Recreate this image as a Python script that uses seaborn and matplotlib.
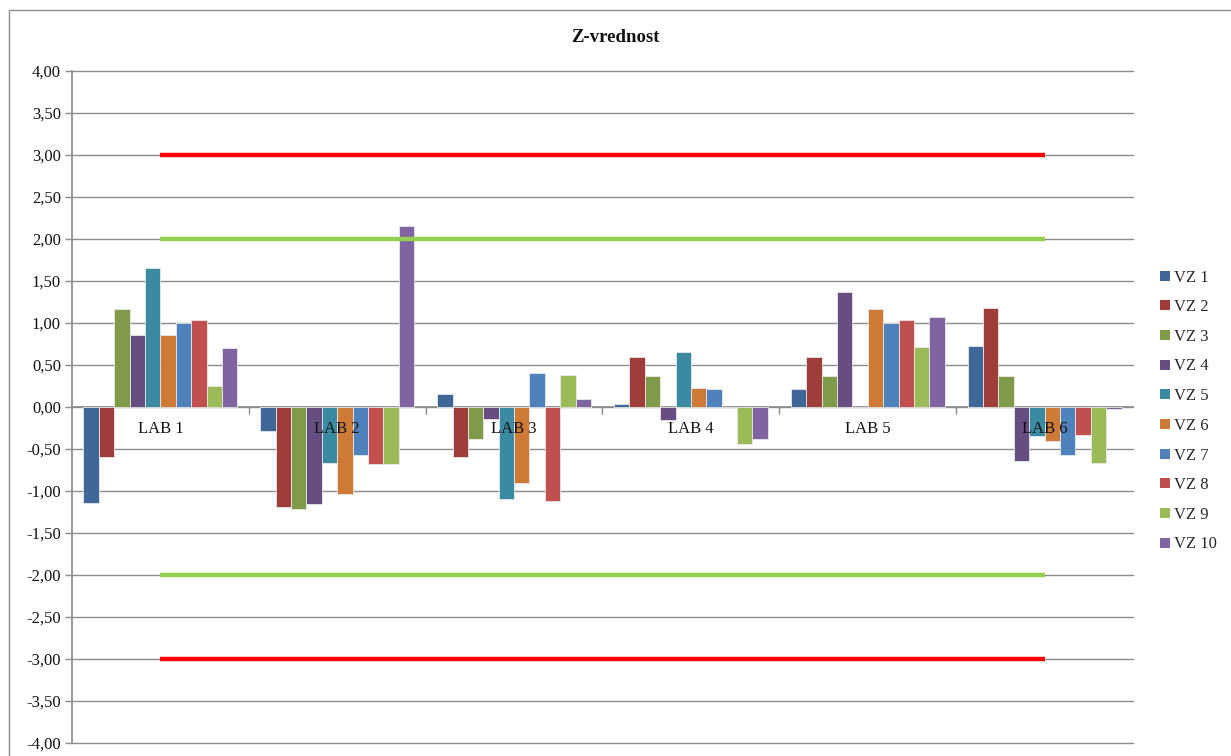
import numpy as np
import pandas as pd
import matplotlib
matplotlib.use("Agg")
import matplotlib.pyplot as plt
from matplotlib.patches import Patch, Rectangle
from matplotlib.ticker import FixedLocator
import seaborn as sns

labs = ["LAB 1", "LAB 2", "LAB 3", "LAB 4", "LAB 5", "LAB 6"]
series = ["VZ 1", "VZ 2", "VZ 3", "VZ 4", "VZ 5", "VZ 6", "VZ 7", "VZ 8", "VZ 9", "VZ 10"]

vz1 = [-1.14, -0.29, 0.15, 0.04, 0.22, 0.73]
vz2 = [-0.60, -1.19, -0.60, 0.59, 0.59, 1.18]
vz3 = [1.17, -1.21, -0.38, 0.37, 0.37, 0.37]
vz4 = [0.86, -1.16, -0.14, -0.15, 1.37, -0.64]
vz5 = [1.65, -0.67, -1.10, 0.66, 0.00, -0.35]
vz6 = [0.86, -1.03, -0.90, 0.23, 1.17, -0.40]
vz7 = [1.00, -0.57, 0.40, 0.21, 1.00, -0.57]
vz8 = [1.03, -0.68, -1.12, 0.00, 1.03, -0.33]
vz9 = [0.25, -0.68, 0.38, -0.44, 0.71, -0.67]
vz10 = [0.70, 2.15, 0.09, -0.38, 1.07, -0.02]

red_limits = [3.0, -3.0]
green_limits = [2.0, -2.0]
y_ticks = [-4.0, -3.5, -3.0, -2.5, -2.0, -1.5, -1.0, -0.5, 0.0, 0.5, 1.0, 1.5, 2.0, 2.5, 3.0, 3.5, 4.0]
y_tick_labels = [f"{v:.2f}".replace(".", ",") for v in y_ticks]
title = "Z-vrednost"

colors = ["#3F6797", "#9E3D3A", "#7F9A48", "#664E83", "#3A8BA2",
          "#CC7A35", "#4F81BD", "#C0504D", "#9BBB59", "#8064A2"]

all_vals = [vz1, vz2, vz3, vz4, vz5, vz6, vz7, vz8, vz9, vz10]
rows = []
for s, vals in zip(series, all_vals):
    for lab, v in zip(labs, vals):
        rows.append({"lab": lab, "vz": s, "z": v})
df = pd.DataFrame(rows)

sns.set_theme(style="white")
plt.rcParams["font.family"] = ["Liberation Serif", "DejaVu Serif"]

W, H = 1231, 756
fig = plt.figure(figsize=(W / 100, H / 100), dpi=100)
ax = fig.add_axes([72 / W, (H - 743) / H, (1133 - 72) / W, (743 - 71) / H])
ax.set_axisbelow(False)

grid_c = "#8C8C8C"
for v in y_ticks:
    ax.axhline(v, color=grid_c, lw=1.0, zorder=0, clip_on=False)

sns.barplot(data=df, x="lab", y="z", hue="vz", hue_order=series, order=labs,
            palette=colors, width=0.87, saturation=1, ax=ax, legend=False,
            linewidth=0.6, edgecolor="#E8E8E8", zorder=2)

for lv in red_limits:
    ax.hlines(lv, 0, len(labs) - 1, color="#FF0000", lw=3.2, zorder=3)
for lv in green_limits:
    ax.hlines(lv, 0, len(labs) - 1, color="#92D050", lw=3.2, zorder=3)

ax.set_ylim(-4, 4)
ax.set_xlim(-0.5, len(labs) - 0.5)
ax.set_yticks(y_ticks)
ax.set_yticklabels(y_tick_labels, fontsize=12, color="#111111")
ax.tick_params(axis="y", length=5, color=grid_c, width=1, pad=3, left=True, direction="out")

ax.spines["top"].set_visible(False)
ax.spines["right"].set_visible(False)
ax.spines["left"].set_color(grid_c)
ax.spines["bottom"].set_color(grid_c)
ax.spines["bottom"].set_position(("data", 0))
ax.spines["bottom"].set_zorder(1)
ax.set_xlabel("")
ax.set_ylabel("")
ax.tick_params(axis="x", which="major", length=0, pad=10, labelsize=12, labelcolor="#111111")
ax.xaxis.set_minor_locator(FixedLocator(np.arange(0.5, len(labs) - 0.5, 1.0)))
ax.tick_params(axis="x", which="minor", length=5, color=grid_c, width=1, direction="out", bottom=True)
ax.xaxis.set_zorder(5)

fig.text(0.5, (H - 37) / H, title, ha="center", va="center", fontsize=13.5, fontweight="bold",
         color="#111111")

handles = [Patch(facecolor=c, edgecolor="none") for c in colors]
leg = fig.legend(handles, series, loc="center left", bbox_to_anchor=(1152 / W, (H - 411) / H),
                 frameon=False, fontsize=12, handlelength=0.55, handleheight=0.55,
                 handletextpad=0.3, labelspacing=0.82, borderpad=0)

fig.patches.append(Rectangle((9 / W, -0.05), 2.0, (H - 10) / H + 0.05, transform=fig.transFigure,
                             fill=False, edgecolor="#8C8C8C", lw=1.0))

fig.savefig("out.png", dpi=100)
